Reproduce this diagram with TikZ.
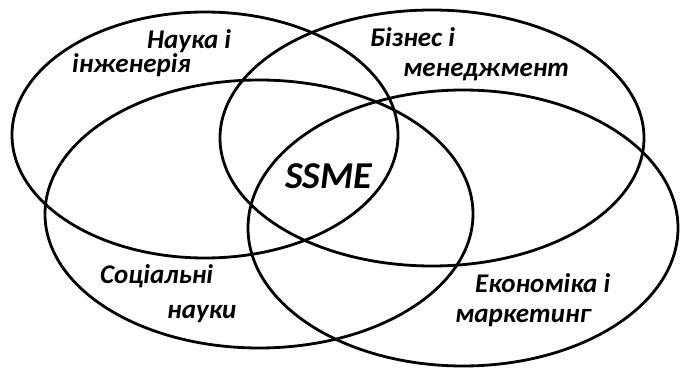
\documentclass[tikz,border=0pt]{standalone}
\usepackage{fontspec}
\setmainfont{Carlito}
\usepackage{tikz}
\usetikzlibrary{shapes.geometric}
\tikzstyle{oval} = [ellipse, draw = black, line width = 2.8pt, inner sep = 0pt]
\tikzstyle{txt} = [anchor = base west, inner sep = 0pt, font = \fontsize{27}{32}\selectfont\bfseries\itshape]

\begin{document}
\begin{tikzpicture}[x = 1pt, y = -1pt]
    \useasboundingbox (0, 0) rectangle (681, 369);

    \node (A) at (205, 135) [oval, minimum width = 386pt, minimum height = 246pt] {};
    \node (B) at (432, 138) [oval, minimum width = 424pt, minimum height = 256pt] {};
    \node (C) at (259, 214) [oval, minimum width = 428pt, minimum height = 268pt] {};
    \node (D) at (463, 228) [oval, minimum width = 430pt, minimum height = 276pt] {};

    \node (E) at (147, 49) [txt] {Наука і};
    \node (F) at (72, 73) [txt] {інженерія};
    \node (G) at (370, 47) [txt] {Бізнес і};
    \node (H) at (403, 77) [txt] {менеджмент};
    \node (I) at (285, 188) [txt, font = \fontsize{38}{44}\selectfont\bfseries\itshape] {SSME};
    \node (J) at (100, 283) [txt] {Соціальні};
    \node (K) at (167, 318) [txt] {науки};
    \node (L) at (475, 292) [txt] {Економіка і};
    \node (M) at (455, 322) [txt] {маркетинг};
\end{tikzpicture}
\end{document}
